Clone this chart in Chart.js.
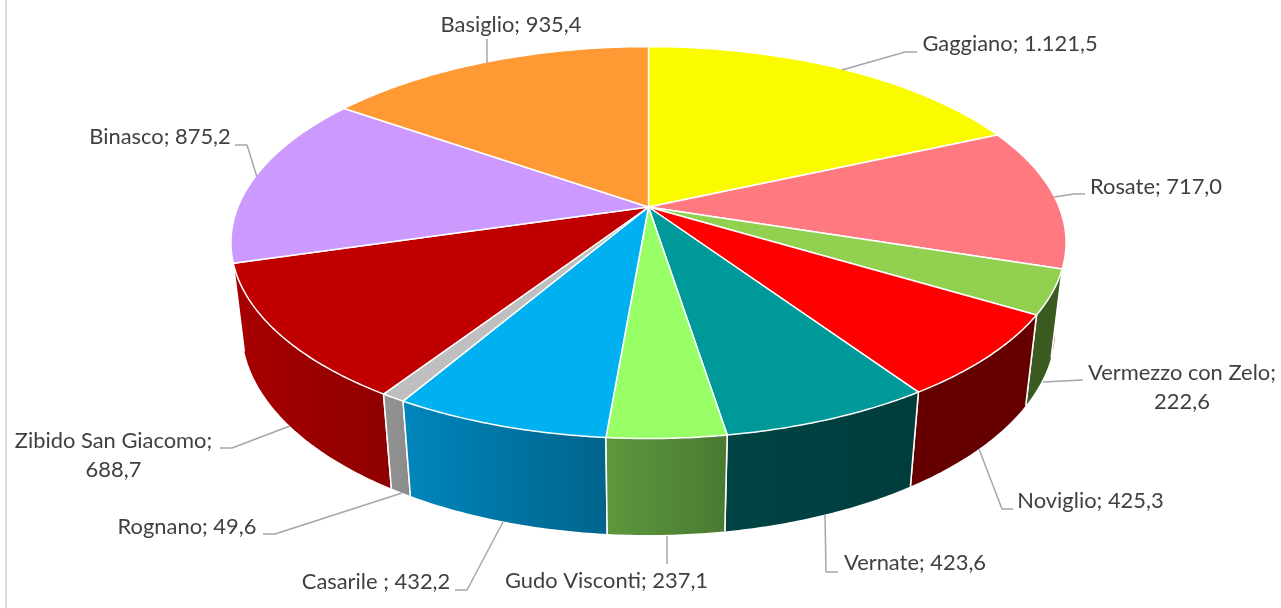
<!DOCTYPE html>
<html><head><meta charset="utf-8">
<style>
html,body{margin:0;padding:0;background:#fff;overflow:hidden}
#wrap{position:relative;width:1281px;height:608px}
#rule{position:absolute;left:5px;top:0;width:2px;height:608px;background:#dcdcdc}
canvas{position:absolute;left:0;top:0}
</style>
<script src="https://cdn.jsdelivr.net/npm/chart.js@4/dist/chart.umd.js"></script>
</head><body>
<div id="wrap"><div id="rule"></div><canvas id="c" width="1281" height="608"></canvas></div>
<script>
const categories = ['Gaggiano','Rosate','Vermezzo con Zelo','Noviglio','Vernate','Gudo Visconti','Casarile ','Rognano','Zibido San Giacomo','Binasco','Basiglio'];
const values = [1121.5,717.0,222.6,425.3,423.6,237.1,432.2,49.6,688.7,875.2,935.4];
const topColors = ['#fbfb00','#ff7a80','#92d050','#ff0000','#009999','#99ff66','#00b0f0','#bfbfbf','#c00000','#cc99ff','#ff9933'];
const wallStart = ['#8a8a00','#8c4346','#3a5a20','#660000','#004444','#5c983d','#0086bc','#939393','#a80000','#705490','#8c5420'];
const wallEnd   = ['#8a8a00','#8c4346','#3a5a20','#660000','#003c3c','#4b7a32','#00648c','#8b8b8b','#8e0000','#705490','#8c5420'];

// view of the pie: a perspective projection of the unit disc
const view = {cx:648.5, cy:207, A:410.6, B:189.5, p:0.1816, sink:0.026, drop:87.5};
function proj(a, r, low){
  const u = r*Math.cos(a), v = r*Math.sin(a);
  const w = 1 - view.p*v + (low ? view.sink : 0);
  return [view.cx + view.A*u/w, view.cy + (view.B*v + (low ? view.drop : 0))/w];
}
function samples(s, e){
  const n = Math.max(2, Math.ceil((e-s)/0.01)), out = [];
  for(let i=0;i<=n;i++) out.push(s + (e-s)*i/n);
  return out;
}
// the library's arc elements keep their computed angles; only the way they paint changes
Chart.ArcElement.prototype.draw = function(ctx){
  const o = this.options;
  ctx.save();
  ctx.beginPath();
  const c = proj(0,0,false);
  ctx.moveTo(c[0],c[1]);
  samples(this.startAngle,this.endAngle).forEach(a=>{const p=proj(a,1,false);ctx.lineTo(p[0],p[1]);});
  ctx.closePath();
  ctx.fillStyle = o.backgroundColor;
  ctx.fill();
  ctx.strokeStyle = o.borderColor;
  ctx.lineWidth = o.borderWidth;
  ctx.lineJoin = 'round';
  ctx.stroke();
  ctx.restore();
};
const walls = {
  id:'walls',
  beforeDatasetsDraw(chart){
    const ctx = chart.ctx;
    const arcs = chart.getDatasetMeta(0).data.map((el,i)=>({el,i}));
    arcs.sort((a,b)=>Math.sin((a.el.startAngle+a.el.endAngle)/2)-Math.sin((b.el.startAngle+b.el.endAngle)/2));
    arcs.forEach(({el,i})=>{
      const as = samples(el.startAngle,el.endAngle);
      const top = as.map(a=>proj(a,1,false)), low = as.map(a=>proj(a,1,true));
      const xs = top.concat(low).map(p=>p[0]);
      const g = ctx.createLinearGradient(Math.min(...xs),0,Math.max(...xs),0);
      g.addColorStop(0,wallStart[i]); g.addColorStop(1,wallEnd[i]);
      ctx.beginPath();
      top.forEach((p,k)=>k?ctx.lineTo(p[0],p[1]):ctx.moveTo(p[0],p[1]));
      low.reverse().forEach(p=>ctx.lineTo(p[0],p[1]));
      ctx.closePath();
      ctx.fillStyle = g; ctx.fill();
      ctx.strokeStyle = '#fff'; ctx.lineWidth = 1.5; ctx.lineJoin='round';
      const a=top[0], b=low[low.length-1], c=top[top.length-1], d=low[0];
      if(Math.sin(el.startAngle)>0.25){ctx.beginPath();ctx.moveTo(a[0],a[1]);ctx.lineTo(b[0],b[1]);ctx.stroke();}
      if(Math.sin(el.endAngle)>0.25){ctx.beginPath();ctx.moveTo(c[0],c[1]);ctx.lineTo(d[0],d[1]);ctx.stroke();}
    });
  }
};
function fmt(v){
  const [i,d] = v.toFixed(1).split('.');
  return i.replace(/\B(?=(\d{3})+$)/g,'.') + ',' + d;
}
// label placement: text centre x, first-line centre y, and whether the value wraps
const labelX = [1010,1156,1182,1090.5,915,606.5,376,187,113.5,160,511];
const labelY = [44,187,373,501,563,581,582,527,441,137,25];
const labelWrap = [false,false,true,false,false,false,false,false,true,false,false];
const leaders = [
  [[842,70],[905,52],[917,52]],
  [[1054,197],[1074,194],[1085,194]],
  [[1043,382],[1083,380]],
  [[979,449],[1002,509],[1013,509]],
  [[825,515],[826,572],[838,572]],
  [[667,536],[667,564]],
  [[503,522],[467,590],[455,590]],
  [[402,493],[275,534],[263,534]],
  [[290,426],[232,448],[220,448]],
  [[257,177],[247,145],[235,145]],
  [[487,63],[487,39]]
];
const callouts = {
  id:'callouts',
  afterDatasetsDraw(chart){
    const ctx = chart.ctx;
    ctx.save();
    ctx.strokeStyle='#a6a6a6'; ctx.lineWidth=1.5; ctx.lineJoin='round';
    leaders.forEach(l=>{ctx.beginPath();l.forEach((p,k)=>k?ctx.lineTo(p[0],p[1]):ctx.moveTo(p[0],p[1]));ctx.stroke();});
    ctx.fillStyle='#404040'; ctx.font='21.9px Lato'; ctx.textAlign='center'; ctx.textBaseline='middle';
    categories.forEach((name,i)=>{
      const val = fmt(values[i]);
      if(labelWrap[i]){
        ctx.fillText(name+';',labelX[i],labelY[i]);
        ctx.fillText(val,labelX[i],labelY[i]+28.5);
      } else ctx.fillText(name+'; '+val,labelX[i],labelY[i]);
    });
    ctx.restore();
  }
};
new Chart(document.getElementById('c'),{
  type:'pie',
  data:{labels:categories,datasets:[{data:values,backgroundColor:topColors,borderColor:'#ffffff',borderWidth:1.5}]},
  options:{responsive:false,animation:false,rotation:0,layout:{padding:0},
    plugins:{legend:{display:false},tooltip:{enabled:false},title:{display:false}}},
  plugins:[walls,callouts]
});
</script>
</body></html>
